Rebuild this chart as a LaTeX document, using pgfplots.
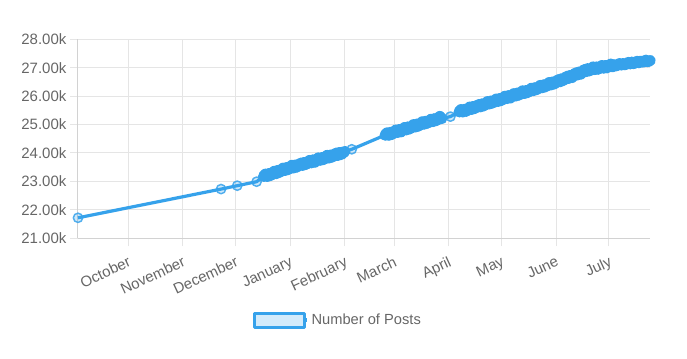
\documentclass[border=0pt]{standalone}
\usepackage{pgfplots}
\pgfplotsset{compat=1.18}
\usepackage{pgfplotstable}
\usepackage{fontspec}
\setmainfont{Liberation Sans}
\definecolor{lineblue}{RGB}{54,162,235}
\definecolor{ticktext}{RGB}{102,102,102}
\definecolor{gridc}{RGB}{229,229,229}
\definecolor{axisc}{RGB}{210,210,210}

% x = days since 1 October
\pgfplotstableread{
d v
-28.4 21.72
52.8 22.73
62 22.85
73 22.99
77 23.18
78 23.25
79 23.18
80 23.27
81 23.21
82 23.28
83 23.35
84 23.28
85 23.38
86 23.32
87 23.39
88 23.46
89 23.39
90 23.48
91 23.42
92 23.49
93 23.56
94 23.48
95 23.57
96 23.51
97 23.58
98 23.64
99 23.57
100 23.66
101 23.60
102 23.66
103 23.73
104 23.66
105 23.75
106 23.68
107 23.75
108 23.82
109 23.75
110 23.83
111 23.77
112 23.84
113 23.91
114 23.83
115 23.92
116 23.86
117 23.93
118 23.99
119 23.92
120 24.01
121 23.95
122 24.01
123 24.05
127 24.13
146 24.63
147 24.70
148 24.63
149 24.72
150 24.66
151 24.73
152 24.80
153 24.73
154 24.82
155 24.75
156 24.82
157 24.89
158 24.82
159 24.91
160 24.85
161 24.92
162 24.99
163 24.92
164 25.01
165 24.95
166 25.02
167 25.09
168 25.02
169 25.11
170 25.05
171 25.11
172 25.18
173 25.11
174 25.20
175 25.14
176 25.21
177 25.28
178 25.21
183 25.28
188 25.45
189 25.52
190 25.45
191 25.53
192 25.47
193 25.54
194 25.61
195 25.54
196 25.63
197 25.57
198 25.64
199 25.70
200 25.63
201 25.72
202 25.66
203 25.73
204 25.80
205 25.73
206 25.82
207 25.76
208 25.82
209 25.89
210 25.82
211 25.91
212 25.85
213 25.92
214 25.99
215 25.92
216 26.01
217 25.94
218 26.01
219 26.08
220 26.01
221 26.10
222 26.04
223 26.11
224 26.18
225 26.10
226 26.19
227 26.13
228 26.20
229 26.27
230 26.20
231 26.29
232 26.23
233 26.30
234 26.37
235 26.30
236 26.39
237 26.33
238 26.40
239 26.47
240 26.40
241 26.49
242 26.43
243 26.50
244 26.57
245 26.51
246 26.60
247 26.55
248 26.62
249 26.69
250 26.63
251 26.72
252 26.66
253 26.74
254 26.81
255 26.75
256 26.84
257 26.78
258 26.86
259 26.93
260 26.87
261 26.96
262 26.89
263 26.95
264 27.02
265 26.94
266 27.02
267 26.95
268 27.01
269 27.07
270 26.99
271 27.07
272 27.00
273 27.06
274 27.12
275 27.04
276 27.10
277 27.07
278 27.10
279 27.14
280 27.10
281 27.14
282 27.11
283 27.14
284 27.18
285 27.14
286 27.19
287 27.15
288 27.18
289 27.22
290 27.18
291 27.22
292 27.20
293 27.22
294 27.26
295 27.22
296.3 27.25
}\posts

\begin{document}
\begin{tikzpicture}
\path[use as bounding box] (0,0) rectangle (515.25pt,268.5pt);
\begin{axis}[
  at={(58.5pt,89.8pt)}, anchor=south west,
  width=429pt, height=149.25pt, scale only axis,
  xmin=-28.4, xmax=296.3,
  ymin=21, ymax=28,
  clip=false,
  axis x line*=bottom, axis y line*=left,
  axis line style={draw=axisc, line width=0.75pt, -},
  tick align=outside, major tick length=6pt,
  tick style={draw=gridc, line width=0.75pt},
  grid=major,
  major grid style={draw=gridc, line width=0.75pt},
  xtick={0,31,61,92,123,151,182,212,243,273},
  xticklabels={October,November,December,January,February,March,April,May,June,July},
  ytick={21,22,23,24,25,26,27,28},
  yticklabels={21.00k,22.00k,23.00k,24.00k,25.00k,26.00k,27.00k,28.00k},
  ticklabel style={font=\fontsize{11.25}{13}\selectfont, text=ticktext},
  xticklabel style={rotate=25, anchor=north east, inner sep=1pt, yshift=-5pt, xshift=-2.5pt},
  yticklabel style={inner sep=2pt, xshift=-0.5pt},
  legend style={at={(0.4545,-0.411)}, anchor=center, draw=none, fill=none,
    font=\fontsize{11}{13}\selectfont, text=ticktext,
    legend cell align=left, inner sep=0pt},
  legend image code/.code={\path (0,0) -- (40pt,0);
    \draw[line width=2.25pt, draw=lineblue, fill=lineblue!22] (0pt,-5.25pt) rectangle (37.5pt,5.25pt);},
]
% dense stretches of daily points, drawn as one solid band beneath the markers
\addplot[color=lineblue, line width=8.5pt, line join=round, line cap=round,
  no marks, forget plot, unbounded coords=jump,
  x filter/.expression={(x<75 || (x>125 && x<140) || (x>180 && x<186)) ? nan : x}]
  table[x=d, y=v] {\posts};
\addplot[color=lineblue, line width=2.4pt, line join=round,
  mark=*, mark size=3.5pt,
  mark options={draw=lineblue, draw opacity=0.85, fill=lineblue, fill opacity=0.25, line width=1.1pt}]
  table[x=d, y=v] {\posts};
\addlegendentry{Number of Posts}
\end{axis}
\end{tikzpicture}
\end{document}
